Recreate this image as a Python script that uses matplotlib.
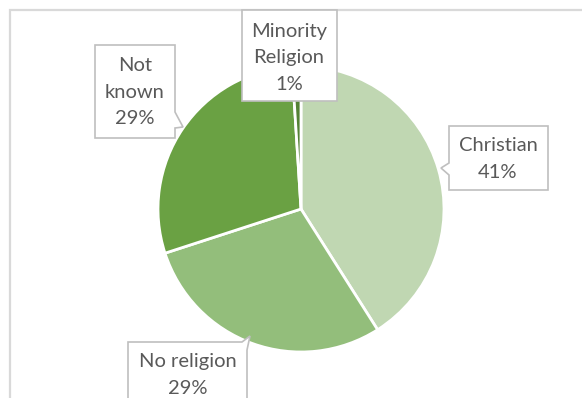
import matplotlib
matplotlib.use("Agg")
import matplotlib.pyplot as plt
from matplotlib.patches import Polygon

# religion breakdown (percent)
labels = ["Christian", "No religion", "Not\nknown", "Minority\nReligion"]
values = [41, 29, 29, 1]
colors = ["#c0d7b2", "#93be7b", "#6aa143", "#548235"]

W, H = 582, 398


def img(x, y):
    # pixel coords measured from the top-left corner
    return (x, H - y)


fig = plt.figure(figsize=(W / 100, H / 100), dpi=100)
ax = fig.add_axes([0, 0, 1, 1])

wedges, _ = ax.pie(values, colors=colors, startangle=90, counterclock=False,
                   center=img(301, 209), radius=143,
                   wedgeprops=dict(edgecolor="white", linewidth=2.0))

ax.set_xlim(0, W)
ax.set_ylim(0, H)
ax.set_aspect("equal")
ax.axis("off")

# chart area border (left and top edges only)
ax.plot([10, 10, W], [0, H - 10, H - 10], color="#d9d9d9", lw=1.6,
        solid_joinstyle="miter", zorder=1)

# callout outlines, in pixel coords
callouts = [
    # Christian: pointer on the left side
    [(449, 126), (548, 126), (548, 190), (449, 190), (449, 175),
     (441, 168), (449, 163)],
    # No religion: pointer at top right
    [(128, 342), (242, 342), (250, 336), (247, 350), (247, 400),
     (128, 400)],
    # Not known: pointer on the right side
    [(95, 45), (175, 45), (175, 112), (183, 127), (175, 128),
     (175, 138), (95, 138)],
    # Minority religion
    [(242, 10), (337, 10), (337, 101), (242, 101)],
]
for pts in callouts:
    ax.add_patch(Polygon([img(x, y) for x, y in pts], closed=True,
                         facecolor="white", edgecolor="#bfbfbf", lw=1.2,
                         zorder=5))

text_pos = [(498, 159), (188, 375), (135, 92), (289, 58)]
for lab, val, (x, y) in zip(labels, values, text_pos):
    ax.text(*img(x, y), f"{lab}\n{val}%", ha="center", va="center",
            fontsize=14.5, family="Lato", color="#595959", linespacing=1.7,
            zorder=6)

fig.savefig("out.png", dpi=100)
